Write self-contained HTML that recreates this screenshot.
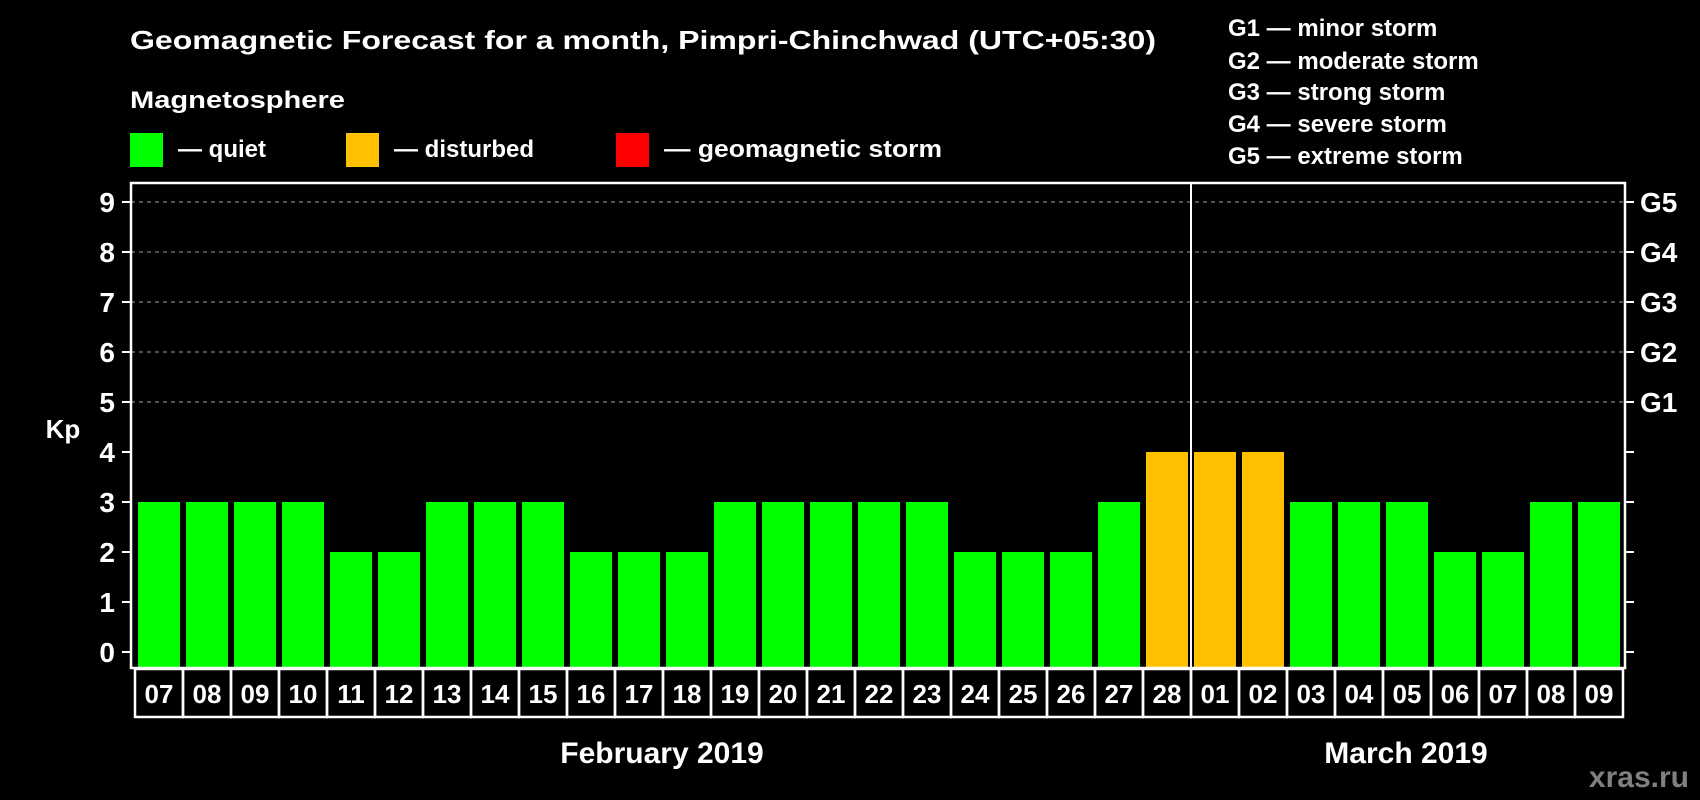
<!DOCTYPE html>
<html><head><meta charset="utf-8"><style>
html,body{margin:0;padding:0;background:#000;}
svg{display:block;font-family:"Liberation Sans",Arial,sans-serif;font-weight:bold;}
</style></head><body>
<svg id="chart" width="1700" height="800" viewBox="0 0 1700 800" xmlns="http://www.w3.org/2000/svg">
<rect width="1700" height="800" fill="#000"/>
<text x="130" y="49" fill="#fff" font-size="26" textLength="1026" lengthAdjust="spacingAndGlyphs">Geomagnetic Forecast for a month, Pimpri-Chinchwad (UTC+05:30)</text>
<text x="130" y="108" fill="#fff" font-size="24" textLength="215" lengthAdjust="spacingAndGlyphs">Magnetosphere</text>
<g><rect x="130" y="133" width="33" height="34" fill="#00ff00"/><text x="178" y="157" fill="#fff" font-size="24">— quiet</text></g>
<g><rect x="346" y="133" width="33" height="34" fill="#ffc000"/><text x="394" y="157" fill="#fff" font-size="24">— disturbed</text></g>
<g><rect x="616" y="133" width="33" height="34" fill="#ff0000"/><text x="664" y="157" fill="#fff" font-size="24" textLength="278" lengthAdjust="spacingAndGlyphs">— geomagnetic storm</text></g>
<g fill="#fff" font-size="24">
<text x="1228" y="36">G1 — minor storm</text>
<text x="1228" y="69">G2 — moderate storm</text>
<text x="1228" y="100">G3 — strong storm</text>
<text x="1228" y="132">G4 — severe storm</text>
<text x="1228" y="164">G5 — extreme storm</text>
</g>
<text x="63" y="438" fill="#fff" font-size="26" text-anchor="middle">Kp</text>
<g id="grid"></g><g id="bars"></g><g id="axes"></g><g id="labels"></g>
<text x="662" y="763" fill="#fff" font-size="30" text-anchor="middle">February 2019</text>
<text x="1406" y="763" fill="#fff" font-size="30" text-anchor="middle">March 2019</text>
<text x="1689" y="787" fill="#808080" font-size="30" text-anchor="end">xras.ru</text>
</svg>
<script>
const days = ["07","08","09","10","11","12","13","14","15","16","17","18","19","20","21","22","23","24","25","26","27","28","01","02","03","04","05","06","07","08","09"];
const kp = [3,3,3,3,2,2,3,3,3,2,2,2,3,3,3,3,3,2,2,2,3,4,4,4,3,3,3,2,2,3,3];
const yTicks = [0,1,2,3,4,5,6,7,8,9];
const gLabels = ["G1","G2","G3","G4","G5"];
const monthBreak = 22;
const NS="http://www.w3.org/2000/svg";
const L=131,R=1625,T=183,B=668;
const y=v=>652-v*50;
const x=i=>138+i*48;
function mk(tag,attrs,parent,text){const e=document.createElementNS(NS,tag);for(const k in attrs)e.setAttribute(k,attrs[k]);if(text!==undefined)e.textContent=text;parent.appendChild(e);return e;}
const grid=document.getElementById('grid'),bars=document.getElementById('bars'),axes=document.getElementById('axes'),labels=document.getElementById('labels');
yTicks.forEach(v=>{
  if(v>=5){const g=mk('line',{x1:L,x2:R,y1:y(v),y2:y(v),stroke:'#808080','stroke-width':1.3,'stroke-dasharray':'4,4'},grid);
  
  }
  mk('line',{x1:L-9,x2:L,y1:y(v),y2:y(v),stroke:'#fff','stroke-width':2},axes);
  mk('line',{x1:R,x2:R+9,y1:y(v),y2:y(v),stroke:'#fff','stroke-width':2},axes);
  const t=mk('text',{x:115,y:y(v)+10,fill:'#fff','font-size':28,'text-anchor':'end'},axes,String(v));
  
  
});
gLabels.forEach((g,i)=>{
  const t=mk('text',{x:1640,y:y(5+i)+10,fill:'#fff','font-size':28},axes,g);
  
  
});
kp.forEach((v,i)=>{
  const col=v>=5?'#ff0000':(v>=4?'#ffc000':'#00ff00');
  const b=mk('rect',{x:x(i),y:y(v),width:42,height:B-y(v),fill:col},bars);
  
  
});
mk('rect',{x:L,y:T,width:R-L,height:B-T,fill:'none',stroke:'#fff','stroke-width':2.5},axes);
const sep=mk('line',{x1:x(monthBreak)-3,x2:x(monthBreak)-3,y1:T,y2:B,stroke:'#fff','stroke-width':2},axes);


days.forEach((d,i)=>{
  const bx=135+i*48;
  mk('rect',{x:bx,y:669,width:48,height:48,fill:'none',stroke:'#fff','stroke-width':2.5},labels);
  const t=mk('text',{x:bx+24,y:703,fill:'#fff','font-size':26,'text-anchor':'middle'},labels,d);
  
  
});
</script>
</body></html>
